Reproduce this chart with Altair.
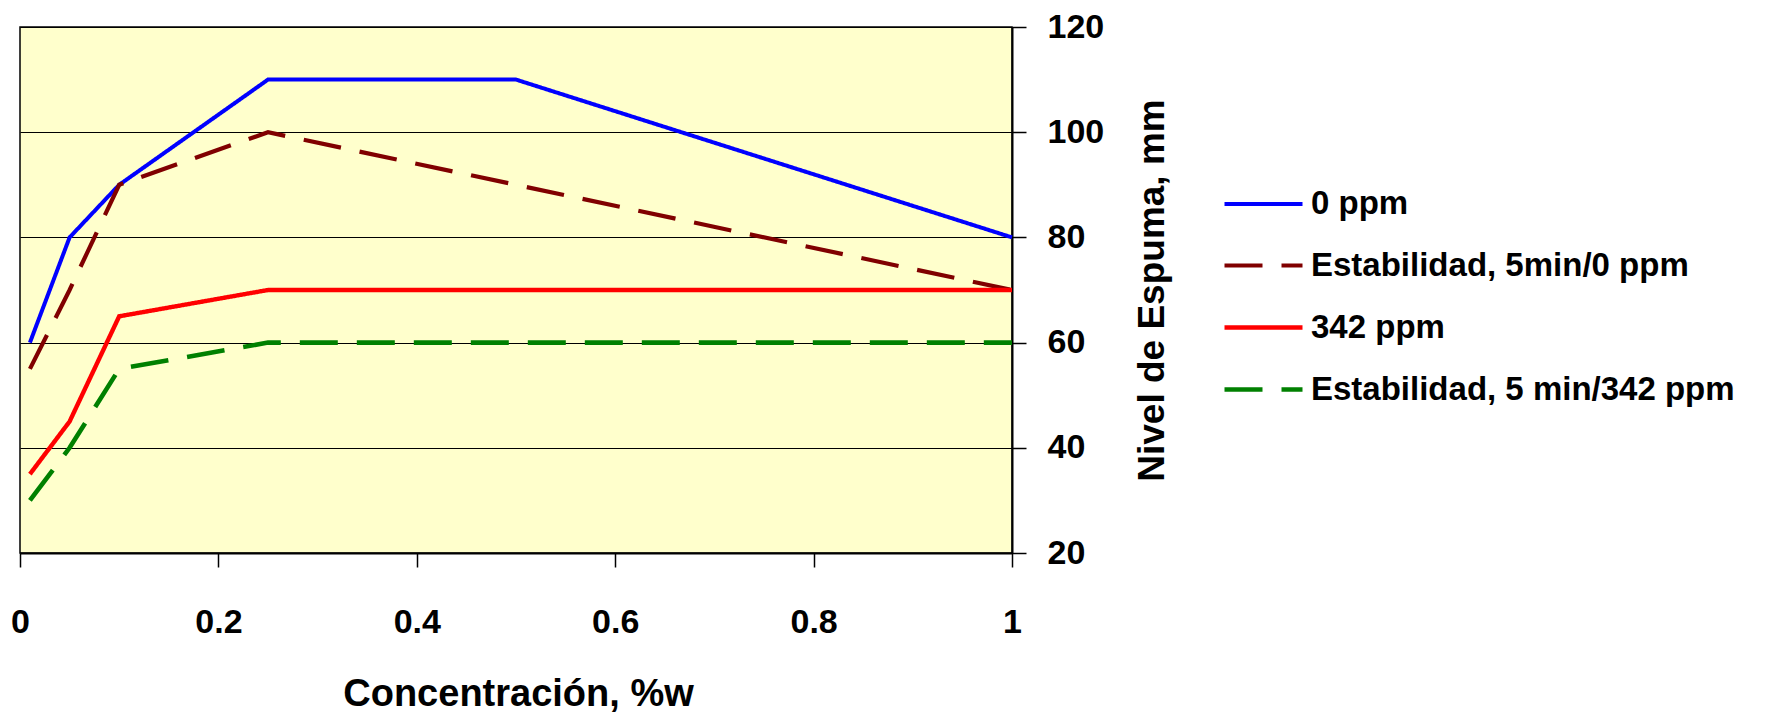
import altair as alt
import pandas as pd

# ---- data ----
conc = [0.01, 0.05, 0.1, 0.25, 0.5, 1.0]
series_names = [
    "0 ppm",
    "Estabilidad, 5min/0 ppm",
    "342 ppm",
    "Estabilidad, 5 min/342 ppm",
]
s_0ppm = [60, 80, 90, 110, 110, 80]
s_est_0ppm = [55, 70, 90, 100, 90, 70]
s_342ppm = [35, 45, 65, 70, 70, 70]
s_est_342ppm = [30, 40, 55, 60, 60, 60]

colors = ["#0000FF", "#800000", "#FF0000", "#008000"]
dashes = [[1, 0], [38, 19], [1, 0], [38, 19]]
widths = [4, 4.6, 4, 4.6]

rows = []
for name, vals in zip(series_names, [s_0ppm, s_est_0ppm, s_342ppm, s_est_342ppm]):
    for i, (cx, v) in enumerate(zip(conc, vals)):
        rows.append({"serie": name, "conc": cx, "nivel": v, "order": i})
df = pd.DataFrame(rows)

FONT = "Liberation Sans, Arial, sans-serif"

legend = alt.Legend(
    title=None,
    orient="none",
    legendX=1202,
    legendY=136,
    padding=0,
    symbolType="stroke",
    symbolSize=6084,
    symbolStrokeWidth=4.3,
    labelFont=FONT,
    labelFontSize=33,
    labelFontWeight="bold",
    labelColor="black",
    labelOffset=6,
    rowPadding=3,
    labelLimit=1000,
)

chart = (
    alt.Chart(df)
    .mark_line(strokeCap="butt", strokeJoin="miter")
    .encode(
        x=alt.X(
            "conc:Q",
            title="Concentración, %w",
            scale=alt.Scale(domain=[0, 1], nice=False, zero=False),
            axis=alt.Axis(
                values=[0, 0.2, 0.4, 0.6, 0.8, 1],
                format="~g",
                grid=False,
                tickSize=14,
                tickColor="black",
                tickWidth=1.5,
                domainColor="black",
                domainWidth=2,
                labelFont=FONT,
                labelFontSize=34,
                labelFontWeight="bold",
                labelColor="black",
                labelBaseline="alphabetic",
                labelPadding=65,
                labelFlush=False,
                titleFont=FONT,
                titleFontSize=38,
                titleFontWeight="bold",
                titleColor="black",
                titleBaseline="alphabetic",
                titleX=498,
                titleY=152,
                titleAnchor="middle",
            ),
        ),
        y=alt.Y(
            "nivel:Q",
            title="Nivel de Espuma, mm",
            scale=alt.Scale(domain=[20, 120], nice=False, zero=False),
            axis=alt.Axis(
                orient="right",
                values=[20, 40, 60, 80, 100, 120],
                grid=True,
                gridColor="black",
                gridWidth=1.2,
                tickSize=14,
                tickColor="black",
                tickWidth=1.5,
                domainColor="black",
                domainWidth=2,
                labelFont=FONT,
                labelFontSize=34,
                labelFontWeight="bold",
                labelColor="black",
                labelAlign="left",
                labelBaseline="middle",
                labelPadding=21,
                labelFlush=False,
                titleFont=FONT,
                titleFontSize=37,
                titleFontWeight="bold",
                titleColor="black",
                titleAngle=270,
                titleAlign="center",
                titleBaseline="middle",
                titleX=140,
                titleY=263,
            ),
        ),
        color=alt.Color(
            "serie:N",
            scale=alt.Scale(domain=series_names, range=colors),
            sort=series_names,
            legend=legend,
        ),
        strokeDash=alt.StrokeDash(
            "serie:N",
            scale=alt.Scale(domain=series_names, range=dashes),
            sort=series_names,
            legend=legend,
        ),
        strokeWidth=alt.StrokeWidth(
            "serie:N",
            scale=alt.Scale(domain=series_names, range=widths),
            legend=None,
        ),
        order="order:Q",
    )
    .properties(
        width=992,
        height=526,
        autosize=alt.AutoSizeParams(type="none"),
        padding={"left": 12, "top": 19, "right": 745, "bottom": 161},
        background="white",
    )
    .configure_view(fill="#FFFFCC", stroke="black", strokeWidth=1.5)
)

chart.save("out.html", embed_options={"renderer": "svg", "actions": False})
